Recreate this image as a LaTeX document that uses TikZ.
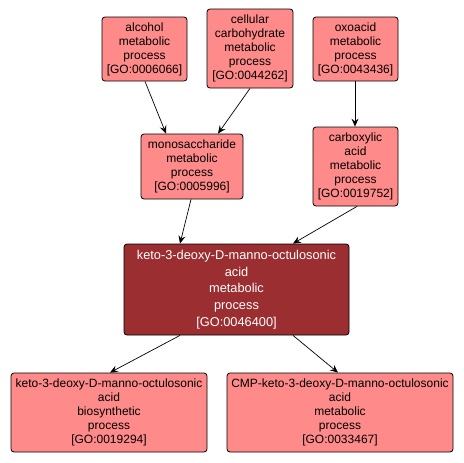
\documentclass[tikz,border=0pt]{standalone}
\usepackage{fontspec}
\setmainfont{Liberation Sans}
\usetikzlibrary{arrows.meta}
\definecolor{lightnode}{HTML}{FF8A8A}
\definecolor{darknode}{HTML}{9B2E30}
\tikzset{
  gobox/.style={draw=black, line width=0.8pt, rounded corners=3pt, fill=lightnode, inner sep=0pt, align=center, font=\fontsize{12}{14}\selectfont},
  darkbox/.style={gobox, fill=darknode, text=white, font=\fontsize{12.8}{16.7}\selectfont},
  edge/.style={draw=black, line width=0.7pt, -{Stealth[length=8pt,width=7pt,inset=3pt]}}
}
\newcommand{\gonode}[6]{%
  \node[#1, minimum width=#4pt-#2pt, minimum height=#5pt-#3pt] (#6) at ({(#2+#4)/2},{(#3+#5)/2})}
\begin{document}
\begin{tikzpicture}[x=1pt,y=-1pt]
\useasboundingbox (0,0) rectangle (463,463);
\gonode{gobox}{102}{17}{187}{81}{alc} {alcohol\\metabolic\\process\\{[GO:0006066]}};
\gonode{gobox}{207}{9}{293}{88}{cel} {cellular\\carbohydrate\\metabolic\\process\\{[GO:0044262]}};
\gonode{gobox}{313}{17}{398}{81}{oxo} {oxoacid\\metabolic\\process\\{[GO:0043436]}};
\gonode{gobox}{141}{134}{243}{199}{mono} {monosaccharide\\metabolic\\process\\{[GO:0005996]}};
\gonode{gobox}{313}{127}{398}{206}{carb} {carboxylic\\acid\\metabolic\\process\\{[GO:0019752]}};
\gonode{darkbox}{124}{244}{349}{335}{kdo} {keto-3-deoxy-D-manno-octulosonic\\acid\\metabolic\\process\\{[GO:0046400]}};
\gonode{gobox}{11}{373}{207}{452}{bio} {keto-3-deoxy-D-manno-octulosonic\\acid\\biosynthetic\\process\\{[GO:0019294]}};
\gonode{gobox}{227}{373}{453}{452}{cmp} {CMP-keto-3-deoxy-D-manno-octulosonic\\acid\\metabolic\\process\\{[GO:0033467]}};
\draw[edge] (alc.south -| 145,0) -- (mono.north -| 166,0);
\draw[edge] (cel.south -| 250,0) -- (mono.north -| 218,0);
\draw[edge] (oxo.south -| 355,0) -- (carb.north -| 355,0);
\draw[edge] (mono.south -| 191,0) -- (kdo.north -| 180,0);
\draw[edge] (carb.south -| 357,0) -- (kdo.north -| 293,0);
\draw[edge] (kdo.south -| 180,0) -- (bio.north -| 110,0);
\draw[edge] (kdo.south -| 293,0) -- (cmp.north -| 338,0);
\end{tikzpicture}
\end{document}
